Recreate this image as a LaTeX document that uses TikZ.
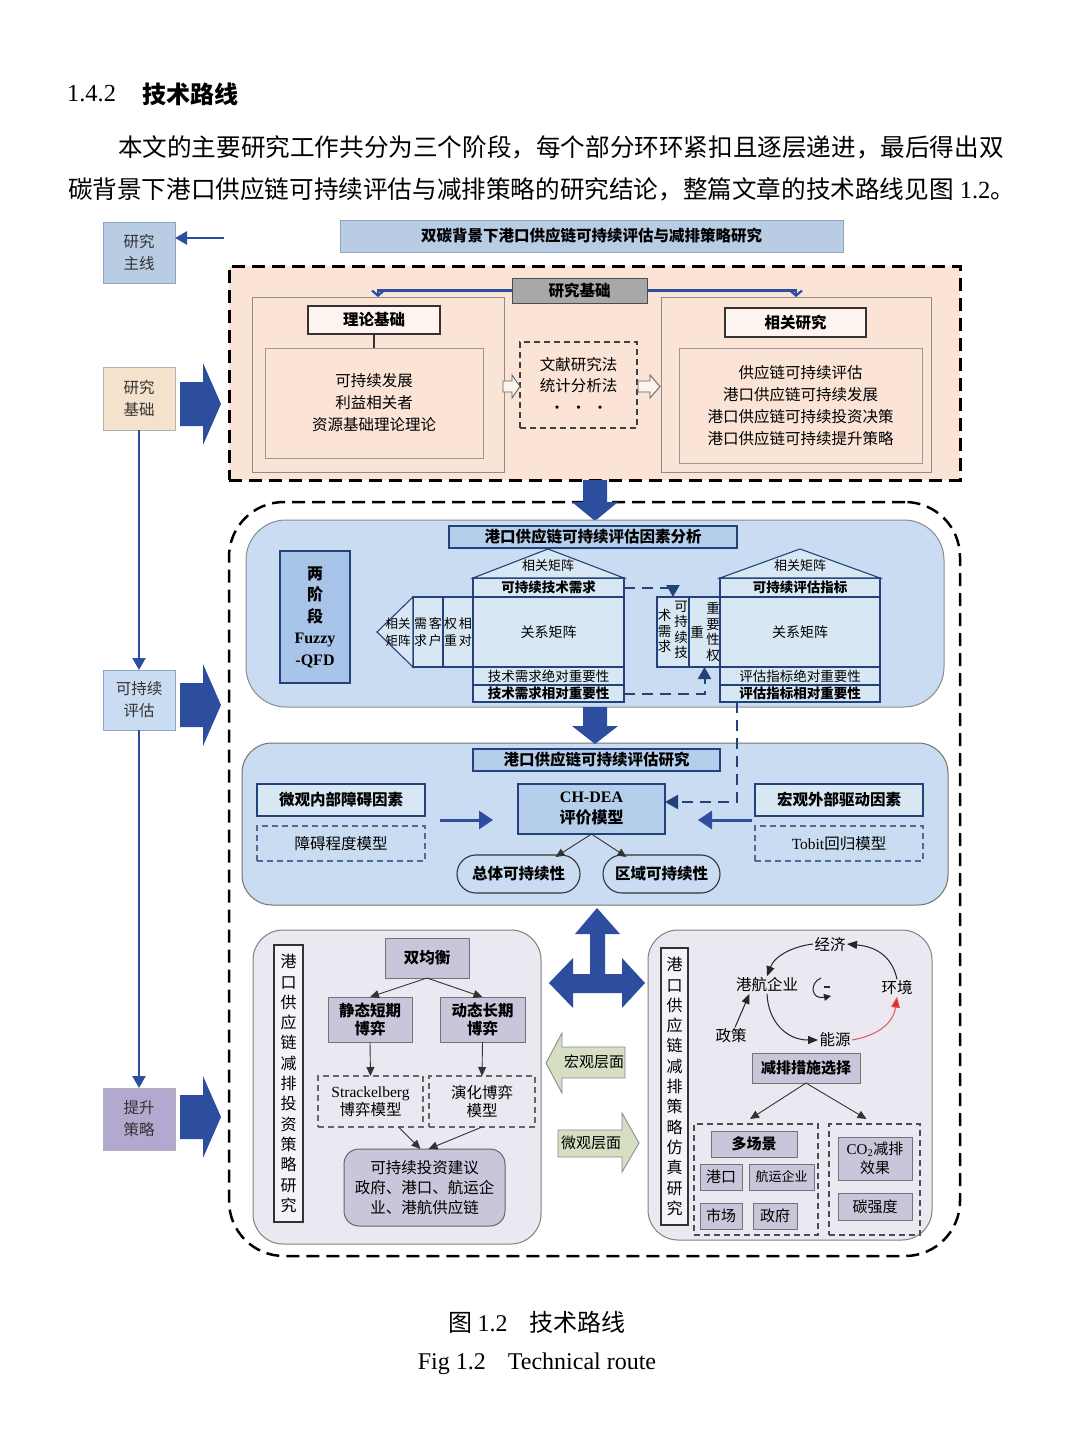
\documentclass[tikz,border=0pt]{standalone}
\usepackage{fontspec}
\setmainfont{Noto Sans CJK SC}
\newfontfamily\lat{Liberation Serif}
\usetikzlibrary{arrows.meta,calc}
\definecolor{dblue}{HTML}{2D4E9E}
\definecolor{lblue}{HTML}{B8CCE4}
\definecolor{lblueb}{HTML}{8EA6C6}
\definecolor{peach}{HTML}{FBE3D6}
\definecolor{panelblue}{HTML}{C9DCF2}
\definecolor{boxblue}{HTML}{B5CEEC}
\definecolor{housefill}{HTML}{D8E7F4}
\definecolor{qfdbox}{HTML}{A8C4E9}
\definecolor{navy}{HTML}{23427A}
\definecolor{greyp}{HTML}{EAE8F0}
\definecolor{lav}{HTML}{CAC5DA}
\definecolor{purp}{HTML}{B3A8CF}
\definecolor{beige}{HTML}{F4E2CC}
\definecolor{sage}{HTML}{D6DFC3}
\definecolor{greyhdr}{HTML}{A8A8A8}
\definecolor{redarr}{HTML}{E0282A}
\newcommand\fz[2]{\fontsize{#1}{#2}\selectfont}
\newcommand\bx[7]{\node[#6,minimum width={(#4)-(#2)},minimum height={(#5)-(#3)}] (#1) at ({((#2)+(#4))/2},{((#3)+(#5))/2}) {#7};}
\tikzset{
  every node/.style={inner sep=0pt,outer sep=0pt,align=center},
  mydash/.style={dash pattern=on 6pt off 4pt},
  bigdash/.style={dash pattern=on 13pt off 7pt},
  sidebox/.style={font={\fz{15.5}{22}},text=black!80,line width=0.8pt},
  pbox/.style={draw=black!45,line width=0.8pt},
  qbox/.style={draw=navy,line width=1.1pt,fill=housefill,font={\fz{13.5}{17}}},
  ebox/.style={draw=navy,line width=1.1pt,fill=housefill,font={\bfseries\fz{15.5}{20}}},
  lbox/.style={draw=black!55,line width=0.9pt,fill=lav,font={\fz{15}{18}}},
  thinarr/.style={black!80,line width=0.9pt,-{Triangle[length=9pt,width=8pt]}},
  loopar/.style={black!85,line width=1pt,-{Triangle[length=10pt,width=8pt]}},
  loopt/.style={font={\fz{15.5}{19}},inner sep=1.5pt},
  vtext/.style={font={\fz{13.5}{15.5}}},
  qdash/.style={navy,line width=2pt,dash pattern=on 11pt off 7pt},
}
\begin{document}
\begin{tikzpicture}[x=1pt,y=-1pt]
\fill[white] (0,0) rectangle (1080,1443);
\useasboundingbox (0,0) rectangle (1080,1443);

% heading and paragraph
\node[anchor=west,font={\lat\fz{24.5}{28}}] (hnum) at (67,94) {1.4.2};
\node[anchor=west,font={\bfseries\fz{24}{28}}] (htit) at (142,94) {技术路线};
\node[anchor=west,font={\fz{24.6}{30}}] (par1) at (118,147) {本文的主要研究工作共分为三个阶段，每个部分环环紧扣且逐层递进，最后得出双};
\node[anchor=west,font={\fz{24.6}{30}}] (par2) at (68,189) {碳背景下港口供应链可持续评估与减排策略的研究结论，整篇文章的技术路线见图{\lat\ 1.2}。};

% title
\bx{title}{340}{220}{843}{252}{fill=lblue,draw=lblueb,line width=1pt,font={\bfseries\fz{15.5}{20}}}{双碳背景下港口供应链可持续评估与减排策略研究}

% left column
\bx{lzx}{103}{222}{175}{283}{fill=lblue,draw=lblueb,sidebox}{研究\\主线}
\coordinate (lzxA) at (224,238);
\draw[dblue,line width=2.5pt,-{Triangle[length=12pt,width=13pt]}] (lzxA) -- (lzxA -| lzx.east);
\bx{cjj}{103}{367}{175}{430}{fill=beige,draw=black!30,sidebox}{研究\\基础}
\bx{kcx}{103}{670}{175}{730}{fill=panelblue,draw=lblueb,sidebox}{可持续\\评估}
\bx{tsc}{103}{1088}{175}{1150}{fill=purp,draw=black!30,sidebox}{提升\\策略}
\draw[dblue,line width=2.2pt,-{Triangle[length=12pt,width=13pt]}] (cjj.south) -- (kcx.north);
\draw[dblue,line width=2.2pt,-{Triangle[length=12pt,width=13pt]}] (kcx.south) -- (tsc.north);
\fill[dblue] (180,382) -- (203,382) -- (203,363) -- (221,404) -- (203,445) -- (203,426) -- (180,426) -- cycle;
\fill[dblue] (180,683) -- (203,683) -- (203,664) -- (221,705) -- (203,746) -- (203,727) -- (180,727) -- cycle;
\fill[dblue] (180,1095) -- (203,1095) -- (203,1076) -- (221,1117) -- (203,1158) -- (203,1139) -- (180,1139) -- cycle;

% research basis block
\bx{rb}{229}{266}{960}{480}{fill=peach,draw=black,line width=3pt,bigdash}{}
\bx{rbh}{512}{278}{647}{303}{fill=greyhdr,draw=black!70,line width=1pt,font={\bfseries\fz{15.5}{20}}}{研究基础}
\bx{llp}{252}{297}{504}{472}{fill=peach,pbox}{}
\bx{xgp}{661}{297}{931}{472}{fill=peach,pbox}{}
\draw[dblue,line width=2.2pt,-{Straight Barb[length=5pt,width=12pt]}] (rbh.west) -| (llp.north);
\draw[dblue,line width=2.2pt,-{Straight Barb[length=5pt,width=12pt]}] (rbh.east) -| (xgp.north);
\bx{llh}{308}{306}{440}{334}{fill=peach!40!white,draw=black!80,line width=1.1pt,font={\bfseries\fz{15.5}{20}}}{理论基础}
\bx{lli}{265}{348}{483}{458}{draw=black!40,line width=0.8pt,font={\fz{15.5}{22}}}{可持续发展\\利益相关者\\资源基础理论理论}
\draw[black!80,line width=1.1pt] (llh.south) -- (lli.north);
\bx{mth}{520}{342}{637}{428}{draw=black!75,line width=1.1pt,mydash,font={\fz{15.5}{21.5}}}{文献研究法\\统计分析法\\•\hspace{6pt}•\hspace{6pt}•}
\bx{xgh}{725}{308}{866}{337}{fill=peach!40!white,draw=black!80,line width=1.1pt,font={\bfseries\fz{15.5}{20}}}{相关研究}
\bx{xgi}{679}{348}{922}{463}{draw=black!40,line width=0.8pt,font={\fz{15.5}{22}}}{供应链可持续评估\\港口供应链可持续发展\\港口供应链可持续投资决策\\港口供应链可持续提升策略}
\draw[black!60,fill=white!60!peach,line width=0.9pt] (503,381) -- (512,381) -- (512,375) -- (520,386.5) -- (512,398) -- (512,392) -- (503,392) -- cycle;
\draw[black!60,fill=white!60!peach,line width=0.9pt] (638,381) -- (650,381) -- (650,375) -- (660,386.5) -- (650,398) -- (650,392) -- (638,392) -- cycle;

% main dashed block
\bx{mr}{229}{502}{960}{1256}{draw=black,line width=2.5pt,bigdash,rounded corners=55pt}{}
\fill[dblue] (583,480) -- (607,480) -- (607,502) -- (618,502) -- (595,521) -- (572,502) -- (583,502) -- cycle;

% QFD panel
\bx{qp}{246}{520}{944}{707}{fill=panelblue,draw=black!45,line width=1pt,rounded corners=40pt}{}
\bx{qpt}{449}{526}{737}{548}{fill=boxblue,draw=navy,line width=1.3pt,font={\bfseries\fz{15.5}{20}}}{港口供应链可持续评估因素分析}
\bx{fq}{280}{551}{350}{683}{fill=qfdbox,draw=navy,line width=1.3pt,font={\bfseries\fz{16}{21.5}}}{两\\阶\\段\\{\lat Fuzzy}\\{\lat -QFD}}

% house 1
\coordinate (p1) at (548,549);
\bx{h1a}{473}{578}{624}{597}{qbox,font={\bfseries\fz{13.5}{15}}}{可持续技术需求}
\filldraw[navy,fill=housefill,line width=1.1pt] (h1a.north west) -- (p1) -- (h1a.north east) -- cycle;
\node[font={\fz{13}{15}}] (r1t) at (548,566) {相关矩阵};
\bx{h1m}{473}{597}{624}{667}{qbox,font={\fz{14}{16}}}{关系矩阵}
\bx{h1b}{473}{667}{624}{685}{qbox}{技术需求绝对重要性}
\bx{h1c}{473}{685}{624}{702}{qbox,font={\bfseries\fz{13.5}{15}}}{技术需求相对重要性}
\bx{w1}{413}{597}{443}{667}{qbox,font={\fz{13}{17}}}{需\hspace{2pt}客\\求\hspace{2pt}户}
\bx{w2}{443}{597}{473}{667}{qbox,font={\fz{13}{17}}}{权\hspace{2pt}相\\重\hspace{2pt}对}
\coordinate (t1) at (377,632);
\filldraw[navy,fill=housefill,line width=1.1pt] (w1.north west) -- (t1) -- (w1.south west) -- cycle;
\node[font={\fz{12.5}{17}}] (t1t) at (398,632) {相关\\矩阵};

% rotated part
\bx{rr1}{657}{597}{689}{667}{qbox}{}
\bx{rr2}{689}{597}{720}{667}{qbox}{}
\node[vtext] (rt1) at (664.5,631) {术\\需\\求};
\node[vtext] (rt2) at (681,630) {可\\持\\续\\技};
\node[vtext] (rt3) at (697,632) {重};
\node[vtext] (rt4) at (713,632) {重\\要\\性\\权};

% house 2
\coordinate (p2) at (800,549);
\bx{h2a}{720}{578}{880}{597}{qbox,font={\bfseries\fz{13.5}{15}}}{可持续评估指标}
\filldraw[navy,fill=housefill,line width=1.1pt] (h2a.north west) -- (p2) -- (h2a.north east) -- cycle;
\node[font={\fz{13}{15}}] (r2t) at (800,566) {相关矩阵};
\bx{h2m}{720}{597}{880}{667}{qbox,font={\fz{14}{16}}}{关系矩阵}
\bx{h2b}{720}{667}{880}{685}{qbox}{评估指标绝对重要性}
\bx{h2c}{720}{685}{880}{702}{qbox,font={\bfseries\fz{13.5}{15}}}{评估指标相对重要性}

\draw[qdash,-{Triangle[length=12pt,width=13pt]}] (h1a.east) -| (rr1.north);
\draw[qdash,-{Triangle[length=12pt,width=13pt]}] (h1c.east) -| (rr2.south);

% evaluation panel
\bx{ep}{242}{743}{948}{905}{fill=panelblue,draw=black!55,line width=1pt,rounded corners=30pt}{}
\fill[dblue] (583,707) -- (607,707) -- (607,726) -- (618,726) -- (595,744) -- (572,726) -- (583,726) -- cycle;
\bx{ept}{473}{749}{720}{771}{fill=boxblue,draw=navy,line width=1.3pt,font={\bfseries\fz{15.5}{20}}}{港口供应链可持续评估研究}
\bx{wg}{257}{784}{425}{816}{ebox}{微观内部障碍因素}
\bx{wgm}{257}{826}{425}{861}{draw=navy!80,line width=1.1pt,mydash,font={\fz{15.5}{20}}}{障碍程度模型}
\bx{hg}{755}{784}{923}{816}{ebox}{宏观外部驱动因素}
\bx{hgm}{755}{826}{923}{861}{draw=navy!80,line width=1.1pt,mydash,font={\fz{15.5}{20}}}{{\lat Tobit}回归模型}
\bx{ch}{518}{784}{665}{834}{fill=boxblue,draw=navy,line width=1.3pt,font={\bfseries\fz{16}{21}}}{{\lat CH-DEA}\\评价模型}
\coordinate (dq) at (737,702);
\draw[qdash,-{Triangle[length=13pt,width=14pt]}] (dq) |- ([yshift=7pt]ch.east);
\coordinate (wa1) at (440,820);
\coordinate (wa2) at (493,820);
\draw[dblue,line width=3pt,-{Triangle[length=14pt,width=18pt]}] (wa1) -- (wa2);
\coordinate (ha1) at (752,820);
\coordinate (ha2) at (698,820);
\draw[dblue,line width=3pt,-{Triangle[length=14pt,width=18pt]}] (ha1) -- (ha2);
\bx{zt}{457}{855}{580}{893}{fill=panelblue,draw=black!80,line width=1.1pt,rounded corners=19pt,font={\bfseries\fz{15.5}{20}}}{总体可持续性}
\bx{qy}{603}{855}{720}{893}{fill=panelblue,draw=black!80,line width=1.1pt,rounded corners=19pt,font={\bfseries\fz{15.5}{20}}}{区域可持续性}
\draw[thinarr] (ch.south) -- ($(zt.north)+(37,2)$);
\draw[thinarr] (ch.south) -- ($(qy.north)+(-35,2)$);

% four-way arrow
\fill[dblue] (597,908) -- (620,934) -- (605,934) -- (605,974) -- (622,974) -- (622,958) -- (645,983) -- (622,1008) -- (622,993) -- (573,993) -- (573,1008) -- (549,983) -- (573,958) -- (573,974) -- (590,974) -- (590,934) -- (575,934) -- cycle;

% macro / micro arrows
\filldraw[fill=sage,draw=black!45,line width=0.9pt] (625,1047) -- (562,1047) -- (562,1033) -- (546,1063) -- (562,1093) -- (562,1078) -- (625,1078) -- cycle;
\node[font={\fz{15}{18}}] (hgcm) at (594,1062) {宏观层面};
\filldraw[fill=sage,draw=black!45,line width=0.9pt] (558,1130) -- (622,1130) -- (622,1113) -- (639,1143) -- (622,1172) -- (622,1157) -- (558,1157) -- cycle;
\node[font={\fz{15}{18}}] (wgcm) at (591,1143) {微观层面};

% bottom left panel
\bx{blp}{253}{930}{541}{1244}{fill=greyp,draw=black!50,line width=1pt,rounded corners=30pt}{}
\bx{blv}{274}{945}{303}{1222}{fill=greyp!50!white,draw=black!80,line width=1.3pt,font={\fz{16}{20.3}}}{港\\口\\供\\应\\链\\减\\排\\投\\资\\策\\略\\研\\究}
\bx{sjh}{385}{938}{469}{978}{lbox,font={\bfseries\fz{15.5}{18}}}{双均衡}
\bx{jt}{328}{997}{412}{1042}{lbox,font={\bfseries\fz{15.5}{18}}}{静态短期\\博弈}
\bx{dt}{440}{997}{525}{1042}{lbox,font={\bfseries\fz{15.5}{18}}}{动态长期\\博弈}
\draw[thinarr] (sjh.south) -- (jt.north);
\draw[thinarr] (sjh.south) -- (dt.north);
\bx{sk}{318}{1076}{423}{1127}{draw=black!60,line width=1.1pt,mydash,font={\fz{15.5}{18}}}{{\lat Strackelberg}\\博弈模型}
\bx{yh}{429}{1076}{535}{1127}{draw=black!60,line width=1.1pt,mydash,font={\fz{15.5}{18}}}{演化博弈\\模型}
\draw[thinarr] (jt.south) -- (sk.north);
\draw[thinarr] (dt.south) -- (yh.north);
\bx{tz}{344}{1149}{505}{1226}{fill=lav,draw=black!60,line width=1pt,rounded corners=15pt,font={\fz{15.5}{20}}}{可持续投资建议\\政府、港口、航运企\\业、港航供应链}
\draw[thinarr] ($(sk.south)+(28,0)$) -- ($(tz.north)+(-4,0)$);
\draw[thinarr] (yh.south) -- ($(tz.north)+(4,0)$);

% bottom right panel
\bx{brp}{648}{930}{932}{1240}{fill=greyp,draw=black!50,line width=1pt,rounded corners=30pt}{}
\bx{brv}{661}{948}{688}{1225}{fill=greyp!50!white,draw=black!80,line width=1.3pt,font={\fz{16}{20.3}}}{港\\口\\供\\应\\链\\减\\排\\策\\略\\仿\\真\\研\\究}
\node[loopt] (jj) at (830,944) {经济};
\node[loopt] (hq) at (767,985) {港航企业};
\node[loopt] (hj) at (897,988) {环境};
\node[loopt] (zc) at (731,1036) {政策};
\node[loopt] (ny) at (835,1040) {能源};
\draw[loopar] (jj.west) .. controls (795,946) and (775,955) .. (hq.north);
\draw[loopar] (hj.north) .. controls (893,960) and (880,947) .. (jj.east);
\draw[loopar] (hq.south) .. controls (768,1020) and (785,1040) .. (ny.west);
\draw[redarr!80!white,line width=1pt,-{Triangle[length=11pt,width=9pt,fill=redarr]}] (ny.east) .. controls (875,1036) and (893,1025) .. (hj.south);
\draw[loopar] ($(zc.north)+(4,0)$) -- ($(hq.south west)+(15,0)$);
\draw[black!85,line width=1pt,-{Triangle[length=7pt,width=7pt]}] (821,978) .. controls (809,983) and (811,1000) .. (831,996);
\draw[black!85,line width=1.2pt] (824,987) -- (830,987);
\bx{jp}{752}{1053}{860}{1083}{lbox,font={\bfseries\fz{15}{18}}}{减排措施选择}
\bx{dl}{694}{1124}{818}{1235}{draw=black!70,line width=1.1pt,mydash}{}
\bx{dr}{829}{1124}{920}{1235}{draw=black!70,line width=1.1pt,mydash}{}
\draw[thinarr] (jp.south) -- ($(dl.north)+(-6,-5)$);
\draw[thinarr] (jp.south) -- ($(dr.north)+(-8,-5)$);
\bx{dcj}{711}{1131}{797}{1157}{lbox,font={\bfseries\fz{15}{18}}}{多场景}
\bx{gk}{700}{1164}{742}{1190}{lbox}{港口}
\bx{hy}{749}{1164}{814}{1190}{lbox,font={\fz{13}{16}}}{航运企业}
\bx{sc}{700}{1203}{742}{1229}{lbox}{市场}
\bx{zf}{753}{1203}{797}{1229}{lbox}{政府}
\bx{co}{838}{1137}{912}{1180}{lbox,font={\fz{15}{19}}}{{\lat CO\textsubscript{2}}减排\\效果}
\bx{tq}{838}{1193}{912}{1220}{lbox}{碳强度}

% caption
\node[font={\fz{24}{28}}] (cap1) at (537,1322) {图 {\lat 1.2}\hspace{22pt}技术路线};
\node[font={\lat\fz{24}{28}}] (cap2) at (537,1364) {Fig 1.2\hspace{22pt}Technical route};
\end{tikzpicture}
\end{document}
